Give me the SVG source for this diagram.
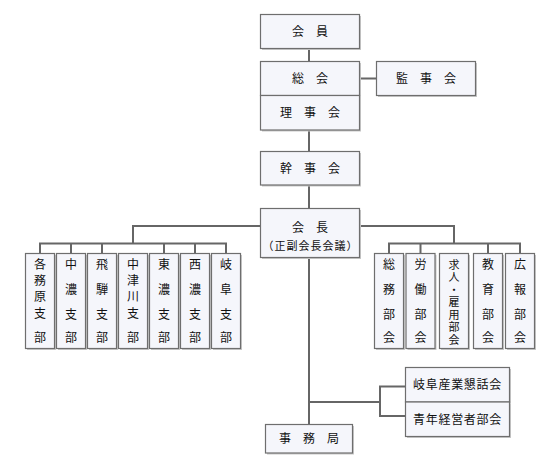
<svg xmlns="http://www.w3.org/2000/svg" width="550" height="476" viewBox="0 0 550 476">
<style>
.bx{fill:#f5f6fb;stroke:#6e6e6e;stroke-width:1.2}
.sh{fill:#c8c8c8}
.t{font-family:"Noto Sans CJK JP","DejaVu Sans",sans-serif;font-size:12px;fill:#111;text-anchor:middle}
.s{font-size:11px}
.c{stroke:#666;stroke-width:2;fill:none}
</style>
<rect width="550" height="476" fill="#fff"/>
<g id="connectors">
<path class="c" d="M309,48.5V61.5M359.5,78.5H376.5M309,130V151.5M309,185V208.5"/>
<path class="c" d="M260.5,226H133V243.5M40,253.5V243.5H226V253.5M71,243.5V253.5M102,243.5V253.5M164,243.5V253.5M195,243.5V253.5"/>
<path class="c" d="M359.5,226H454V243.5M389,253.5V243.5H520V253.5M420.5,243.5V253.5M488,243.5V253.5"/>
<path class="c" d="M309,257.5V424.5M309,402H380M405.5,386.5H380V416H405.5"/>
</g>
<g id="n-kaiin"><rect class="sh" x="262" y="16" width="99" height="34"/><rect class="bx" x="260.5" y="14.5" width="99" height="34"/><text class="t" x="310" y="35.5">会　員</text></g>
<g id="n-soukai"><rect class="sh" x="262" y="63" width="99" height="34"/><rect class="bx" x="260.5" y="61.5" width="99" height="34"/><text class="t" x="310" y="82.5">総　会</text></g>
<g id="n-rijikai"><rect class="sh" x="262" y="97" width="99" height="34.5"/><rect class="bx" x="260.5" y="95.5" width="99" height="34.5"/><text class="t" x="310" y="117">理　事　会</text></g>
<g id="n-kanjikai"><rect class="sh" x="378" y="63" width="99" height="34"/><rect class="bx" x="376.5" y="61.5" width="99" height="34"/><text class="t" x="426" y="82.5">監　事　会</text></g>
<g id="n-kanjikai2"><rect class="sh" x="262" y="153" width="99" height="33.5"/><rect class="bx" x="260.5" y="151.5" width="99" height="33.5"/><text class="t" x="310" y="172.5">幹　事　会</text></g>
<g id="n-kaicho"><rect class="sh" x="262" y="210" width="99" height="49"/><rect class="bx" x="260.5" y="208.5" width="99" height="49"/><text class="t" x="310" y="231.5">会　長</text><text class="t s" x="310.5" y="250" letter-spacing="1">（正副会長会議）</text></g>
<g id="branches">
<g id="n-kakamigahara"><rect class="sh" x="27" y="255" width="29" height="95"/><rect class="bx" x="25.5" y="253.5" width="29" height="95"/><text class="t" x="40" y="269">各</text><text class="t" x="40" y="285">務</text><text class="t" x="40" y="301">原</text><text class="t" x="40" y="318">支</text><text class="t" x="40" y="341.5">部</text></g>
<g id="n-chuno"><rect class="sh" x="58" y="255" width="29" height="95"/><rect class="bx" x="56.5" y="253.5" width="29" height="95"/><text class="t" x="71" y="269">中</text><text class="t" x="71" y="294">濃</text><text class="t" x="71" y="319">支</text><text class="t" x="71" y="341.5">部</text></g>
<g id="n-hida"><rect class="sh" x="89" y="255" width="29" height="95"/><rect class="bx" x="87.5" y="253.5" width="29" height="95"/><text class="t" x="102" y="269">飛</text><text class="t" x="102" y="294">騨</text><text class="t" x="102" y="319">支</text><text class="t" x="102" y="341.5">部</text></g>
<g id="n-nakatsugawa"><rect class="sh" x="120" y="255" width="29" height="95"/><rect class="bx" x="118.5" y="253.5" width="29" height="95"/><text class="t" x="133" y="269">中</text><text class="t" x="133" y="285">津</text><text class="t" x="133" y="301">川</text><text class="t" x="133" y="318">支</text><text class="t" x="133" y="341.5">部</text></g>
<g id="n-tono"><rect class="sh" x="151" y="255" width="29" height="95"/><rect class="bx" x="149.5" y="253.5" width="29" height="95"/><text class="t" x="164" y="269">東</text><text class="t" x="164" y="294">濃</text><text class="t" x="164" y="319">支</text><text class="t" x="164" y="341.5">部</text></g>
<g id="n-seino"><rect class="sh" x="182" y="255" width="29" height="95"/><rect class="bx" x="180.5" y="253.5" width="29" height="95"/><text class="t" x="195" y="269">西</text><text class="t" x="195" y="294">濃</text><text class="t" x="195" y="319">支</text><text class="t" x="195" y="341.5">部</text></g>
<g id="n-gifu"><rect class="sh" x="213" y="255" width="29" height="95"/><rect class="bx" x="211.5" y="253.5" width="29" height="95"/><text class="t" x="226" y="269">岐</text><text class="t" x="226" y="294">阜</text><text class="t" x="226" y="319">支</text><text class="t" x="226" y="341.5">部</text></g>
</g>
<g id="committees">
<g id="n-somu"><rect class="sh" x="376" y="255" width="29" height="95"/><rect class="bx" x="374.5" y="253.5" width="29" height="95"/><text class="t" x="389" y="269">総</text><text class="t" x="389" y="294">務</text><text class="t" x="389" y="319">部</text><text class="t" x="389" y="341.5">会</text></g>
<g id="n-rodo"><rect class="sh" x="407.5" y="255" width="29" height="95"/><rect class="bx" x="406" y="253.5" width="29" height="95"/><text class="t" x="420.5" y="269">労</text><text class="t" x="420.5" y="294">働</text><text class="t" x="420.5" y="319">部</text><text class="t" x="420.5" y="341.5">会</text></g>
<g id="n-kyujin"><rect class="sh" x="441" y="255" width="29" height="95"/><rect class="bx" x="439.5" y="253.5" width="29" height="95"/><text class="t s" x="454" y="303" writing-mode="vertical-rl" letter-spacing="1.5">求人・雇用部会</text></g>
<g id="n-kyoiku"><rect class="sh" x="475" y="255" width="29" height="95"/><rect class="bx" x="473.5" y="253.5" width="29" height="95"/><text class="t" x="488" y="269">教</text><text class="t" x="488" y="294">育</text><text class="t" x="488" y="319">部</text><text class="t" x="488" y="341.5">会</text></g>
<g id="n-koho"><rect class="sh" x="507" y="255" width="29" height="95"/><rect class="bx" x="505.5" y="253.5" width="29" height="95"/><text class="t" x="520" y="269">広</text><text class="t" x="520" y="294">報</text><text class="t" x="520" y="319">部</text><text class="t" x="520" y="341.5">会</text></g>
</g>
<g id="n-konwakai"><rect class="sh" x="407" y="369" width="104" height="34.5"/><rect class="bx" x="405.5" y="367.5" width="104" height="34.5"/><text class="t" x="457.5" y="389" letter-spacing="0.7">岐阜産業懇話会</text></g>
<g id="n-seinen"><rect class="sh" x="407" y="403.5" width="104" height="34.5"/><rect class="bx" x="405.5" y="402" width="104" height="34.5"/><text class="t" x="457.5" y="424" letter-spacing="0.7">青年経営者部会</text></g>
<g id="n-jimukyoku"><rect class="sh" x="267" y="426" width="87" height="28.5"/><rect class="bx" x="265.5" y="424.5" width="87" height="28.5"/><text class="t" x="309" y="443">事　務　局</text></g>
</svg>
